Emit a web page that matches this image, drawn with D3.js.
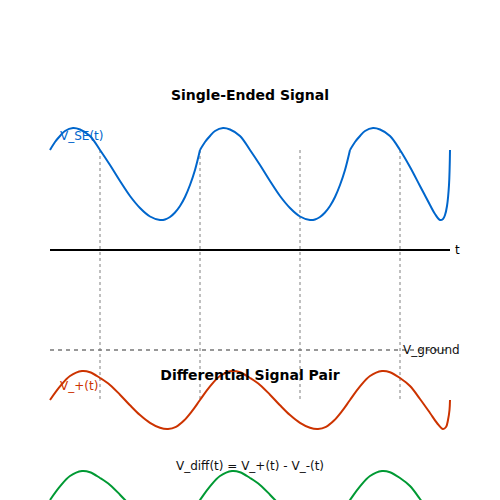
<!DOCTYPE html>
<html><head><meta charset="utf-8">
<script src="https://cdn.jsdelivr.net/npm/d3@7"></script>
<style>body{margin:0;background:#fff}</style>
</head><body><div id="chart"></div>
<script>
// Single-ended signal samples (time t, voltage)
const seT = [0,0.05,0.10,0.15,0.23,0.30,0.40,0.50,0.60,0.70,0.80,0.90,1.00,1.10,1.15,1.20,1.25,1.30,1.35,1.40,1.45,1.50,
  1.55,1.60,1.65,1.73,1.80,1.90,2.00,2.10,2.20,2.30,2.40,2.50,2.60,2.65,2.70,2.75,2.80,2.85,2.90,2.95,3.00,
  3.05,3.10,3.15,3.23,3.30,3.40,3.50,3.60,3.70,3.80,3.85,3.90,3.93,3.95,3.97,3.99,4.00];
const seV = [1.00,1.08,1.14,1.19,1.22,1.205,1.14,1.00,0.85,0.69,0.54,0.42,0.335,0.30,0.305,0.33,0.375,0.44,0.53,0.65,0.80,1.00,
  1.08,1.14,1.19,1.22,1.205,1.14,1.00,0.85,0.69,0.54,0.42,0.335,0.30,0.305,0.33,0.375,0.44,0.53,0.65,0.80,1.00,
  1.08,1.14,1.19,1.22,1.205,1.14,1.00,0.83,0.64,0.45,0.36,0.30,0.31,0.35,0.44,0.65,1.00];
const seSegments = [[0,1.5],[1.5,3.0],[3.0,4.0]];

// Differential pair samples
const pairT = [0,0.10,0.20,0.32,0.40,0.50,0.60,0.70,0.80,0.90,1.00,1.10,1.18,1.26,1.34,1.42,1.50,
  1.60,1.70,1.82,1.90,2.00,2.10,2.20,2.30,2.40,2.50,2.60,2.68,2.76,2.84,2.92,3.00,
  3.10,3.20,3.32,3.40,3.50,3.60,3.70,3.80,3.87,3.93,3.96,3.98,3.995,4.00];
const vPlus = [-1.50,-1.364,-1.26,-1.21,-1.222,-1.28,-1.349,-1.447,-1.553,-1.651,-1.729,-1.778,-1.79,-1.768,-1.705,-1.611,-1.50,
  -1.364,-1.26,-1.21,-1.222,-1.28,-1.349,-1.447,-1.553,-1.651,-1.729,-1.778,-1.79,-1.768,-1.705,-1.611,-1.50,
  -1.364,-1.26,-1.21,-1.222,-1.28,-1.36,-1.49,-1.63,-1.73,-1.79,-1.77,-1.70,-1.60,-1.50];
const vDiff = [-2.50,-2.364,-2.26,-2.21,-2.222,-2.28,-2.349,-2.447,-2.553,-2.651,-2.729,-2.778,-2.79,-2.768,-2.705,-2.611,-2.50,
  -2.364,-2.26,-2.21,-2.222,-2.28,-2.349,-2.447,-2.553,-2.651,-2.729,-2.778,-2.79,-2.768,-2.705,-2.611,-2.50,
  -2.364,-2.26,-2.21,-2.222,-2.28,-2.36,-2.49,-2.63,-2.73,-2.79,-2.77,-2.70,-2.60,-2.50];

const markerT = [0.5,1.5,2.5,3.5];
const groundV = -1;
const titles = ["Single-Ended Signal","Differential Signal Pair"];
const labels = {se:"V_SE(t)", plus:"V_+(t)", diff:"V_diff(t) = V_+(t) - V_-(t)", ground:"V_ground", t:"t"};
const colors = {se:"#0066cc", plus:"#cc3300", diff:"#009933"};

const W=500,H=500;
const svg = d3.select('#chart').append('svg').attr('width',W).attr('height',H)
  .style('font-family','"DejaVu Sans", sans-serif');
const x = d3.scaleLinear().domain([0,4]).range([50,450]);
const y = d3.scaleLinear().domain([-2.5,2.5]).range([500,0]);
const line = d3.line().x(d=>x(d[0])).y(d=>y(d[1])).curve(d3.curveCatmullRom.alpha(0.5));

// marker lines
svg.selectAll('line.mark').data(markerT).join('line').attr('class','mark')
  .attr('x1',d=>x(d)).attr('x2',d=>x(d)).attr('y1',y(1)).attr('y2',y(-1.5))
  .attr('stroke','#b0b0b0').attr('stroke-width',1.6).attr('stroke-dasharray','3,3');

// time axis
svg.append('line').attr('x1',x(0)).attr('x2',x(4)).attr('y1',y(0)).attr('y2',y(0))
  .attr('stroke','#000').attr('stroke-width',2);
svg.append('text').attr('x',x(4)+5).attr('y',y(0)).attr('dy','0.35em')
  .attr('font-size',12).attr('fill','#000').text(labels.t);

// ground
svg.append('line').attr('x1',x(0)).attr('x2',x(4)).attr('y1',y(groundV)).attr('y2',y(groundV))
  .attr('stroke','#777').attr('stroke-width',1.6).attr('stroke-dasharray','4,4');
svg.append('text').attr('x',x(3.53)).attr('y',y(groundV)).attr('dy','0.35em')
  .attr('font-size',12).attr('fill','#111').text(labels.ground);

// single-ended segments
const sePts = seT.map((t,i)=>[t,seV[i]]);
seSegments.forEach(([a,b])=>{
  svg.append('path').datum(sePts.filter(p=>p[0]>=a-1e-9 && p[0]<=b+1e-9))
    .attr('d',line).attr('fill','none').attr('stroke',colors.se).attr('stroke-width',2);
});

// differential pair
svg.append('path').datum(pairT.map((t,i)=>[t,vPlus[i]])).attr('d',line)
  .attr('fill','none').attr('stroke',colors.plus).attr('stroke-width',2);
svg.append('path').datum(pairT.map((t,i)=>[t,vDiff[i]])).attr('d',line)
  .attr('fill','none').attr('stroke',colors.diff).attr('stroke-width',2);

// labels
svg.append('text').attr('x',x(0.1)).attr('y',y(1.14)).attr('dy','0.35em')
  .attr('font-size',12).attr('fill',colors.se).text(labels.se);
svg.append('text').attr('x',x(0.1)).attr('y',y(-1.36)).attr('dy','0.35em')
  .attr('font-size',12).attr('fill',colors.plus).text(labels.plus);
svg.append('text').attr('x',250).attr('y',y(-2.16)).attr('dy','0.35em').attr('text-anchor','middle')
  .attr('font-size',12).attr('fill','#111').text(labels.diff);

// titles
svg.append('text').attr('x',250).attr('y',100).attr('text-anchor','middle')
  .attr('font-size',14).attr('font-weight','bold').attr('fill','#000').text(titles[0]);
svg.append('text').attr('x',250).attr('y',380).attr('text-anchor','middle')
  .attr('font-size',14).attr('font-weight','bold').attr('fill','#000').text(titles[1]);
</script></body></html>
